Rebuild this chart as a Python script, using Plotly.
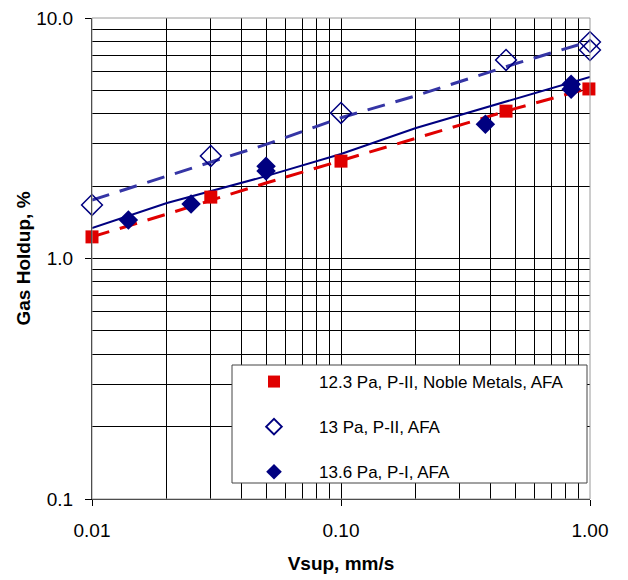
import plotly.graph_objects as go

# ---- data ----
red_x = [0.01, 0.03, 0.10, 0.46, 0.99]
red_y = [1.23, 1.80, 2.54, 4.10, 5.07]

open_x = [0.01, 0.03, 0.10, 0.46, 1.00, 1.00]
open_y = [1.67, 2.67, 4.03, 6.69, 7.94, 7.36]

fill_x = [0.014, 0.025, 0.05, 0.05, 0.38, 0.84, 0.84]
fill_y = [1.445, 1.685, 2.42, 2.31, 3.62, 5.30, 5.05]

fit_x = [0.01, 0.02, 0.05, 0.10, 0.20, 0.50, 1.00]
red_fit = [1.23, 1.53, 2.06, 2.55, 3.17, 4.20, 5.12]
open_fit = [1.75, 2.20, 2.98, 3.85, 4.75, 6.45, 8.00]
fill_fit = [1.34, 1.70, 2.20, 2.72, 3.49, 4.60, 5.69]

names = ["12.3 Pa, P-II, Noble Metals, AFA", "13 Pa, P-II, AFA", "13.6 Pa, P-I, AFA"]

x_ticks = [0.01, 0.1, 1.0]
x_ticktext = ["0.01", "0.10", "1.00"]
y_ticks = [0.1, 1.0, 10.0]
y_ticktext = ["0.1", "1.0", "10.0"]

RED = "#E00000"
NAVY = "#000080"
SLATE = "#3535A5"
FONT = "Liberation Sans, Arial, sans-serif"

fig = go.Figure()

# fit lines
fig.add_trace(go.Scatter(x=fit_x, y=open_fit, mode="lines", showlegend=False,
                         line=dict(color=SLATE, width=3, dash="18px,11px")))
fig.add_trace(go.Scatter(x=fit_x, y=fill_fit, mode="lines", showlegend=False,
                         line=dict(color=NAVY, width=2)))
fig.add_trace(go.Scatter(x=fit_x, y=red_fit, mode="lines", showlegend=False,
                         line=dict(color=RED, width=3, dash="18px,11px")))

# data points
fig.add_trace(go.Scatter(x=red_x, y=red_y, mode="markers", name=names[0], legendgroup="a",
                         cliponaxis=False,
                         marker=dict(symbol="square", size=13, color=RED)))
fig.add_trace(go.Scatter(x=open_x, y=open_y, mode="markers", name=names[1], legendgroup="b",
                         cliponaxis=False,
                         marker=dict(symbol="diamond-open", size=16, color=NAVY,
                                     line=dict(width=1.5, color=NAVY))))
fig.add_trace(go.Scatter(x=fill_x, y=fill_y, mode="markers", name=names[2], legendgroup="c",
                         cliponaxis=False,
                         marker=dict(symbol="diamond", size=15, color=NAVY)))

minor_vals_x = [k * 10 ** e for e in (-2, -1) for k in range(2, 10)]
minor_vals_y = [k * 10 ** e for e in (-1, 0) for k in range(2, 10)]

fig.update_xaxes(type="log", range=[-2, 0], tickvals=x_ticks, ticktext=x_ticktext,
                 ticks="outside", ticklen=6, tickcolor="black", ticklabelstandoff=8,
                 ticklabeloverflow="allow",
                 showline=True, linecolor="black", linewidth=1,
                 showgrid=True, gridcolor="black", gridwidth=1,
                 minor=dict(tickvals=minor_vals_x, showgrid=True, gridcolor="black",
                            gridwidth=1, ticks=""),
                 tickfont=dict(family=FONT, size=19, color="black"),
                 title=dict(text="<b>Vsup, mm/s</b>", standoff=16,
                            font=dict(family=FONT, size=19, color="black")),
                 zeroline=False)
fig.update_yaxes(type="log", range=[-1, 1], tickvals=y_ticks, ticktext=y_ticktext,
                 ticks="outside", ticklen=6, tickcolor="black", ticklabelstandoff=8,
                 ticklabeloverflow="allow",
                 showline=True, linecolor="black", linewidth=1,
                 showgrid=True, gridcolor="black", gridwidth=1,
                 minor=dict(tickvals=minor_vals_y, showgrid=True, gridcolor="black",
                            gridwidth=1, ticks=""),
                 tickfont=dict(family=FONT, size=19, color="black"),
                 title=dict(text="<b>Gas Holdup, %</b>", standoff=0,
                            font=dict(family=FONT, size=19, color="black")),
                 zeroline=False)

# page is offset by the 8px body margin; plot area in page: x 92..590, y 18..499
fig.update_layout(
    width=620, height=572,
    margin=dict(l=84, r=38, t=10, b=81, autoexpand=False),
    paper_bgcolor="white", plot_bgcolor="white",
    font=dict(family=FONT, color="black"),
    shapes=[
        dict(type="rect", xref="paper", yref="paper", x0=0, x1=1, y0=0, y1=1,
             line=dict(color="#9a9a9a", width=1), layer="above"),
        dict(type="rect", xref="paper", yref="paper",
             x0=(232 - 92) / 498, x1=(587 - 92) / 498,
             y0=(499 - 483) / 481, y1=(499 - 365) / 481,
             fillcolor="white", line=dict(color="#444444", width=1), layer="above"),
    ],
    legend=dict(x=(229 - 92) / 498, y=(499 - 364) / 481, xanchor="left", yanchor="top",
                bgcolor="rgba(0,0,0,0)", borderwidth=0,
                font=dict(family=FONT, size=17, color="black"),
                traceorder="grouped", tracegroupgap=20, itemwidth=80,
                itemsizing="constant"),
)

fig.write_html("out.html")
